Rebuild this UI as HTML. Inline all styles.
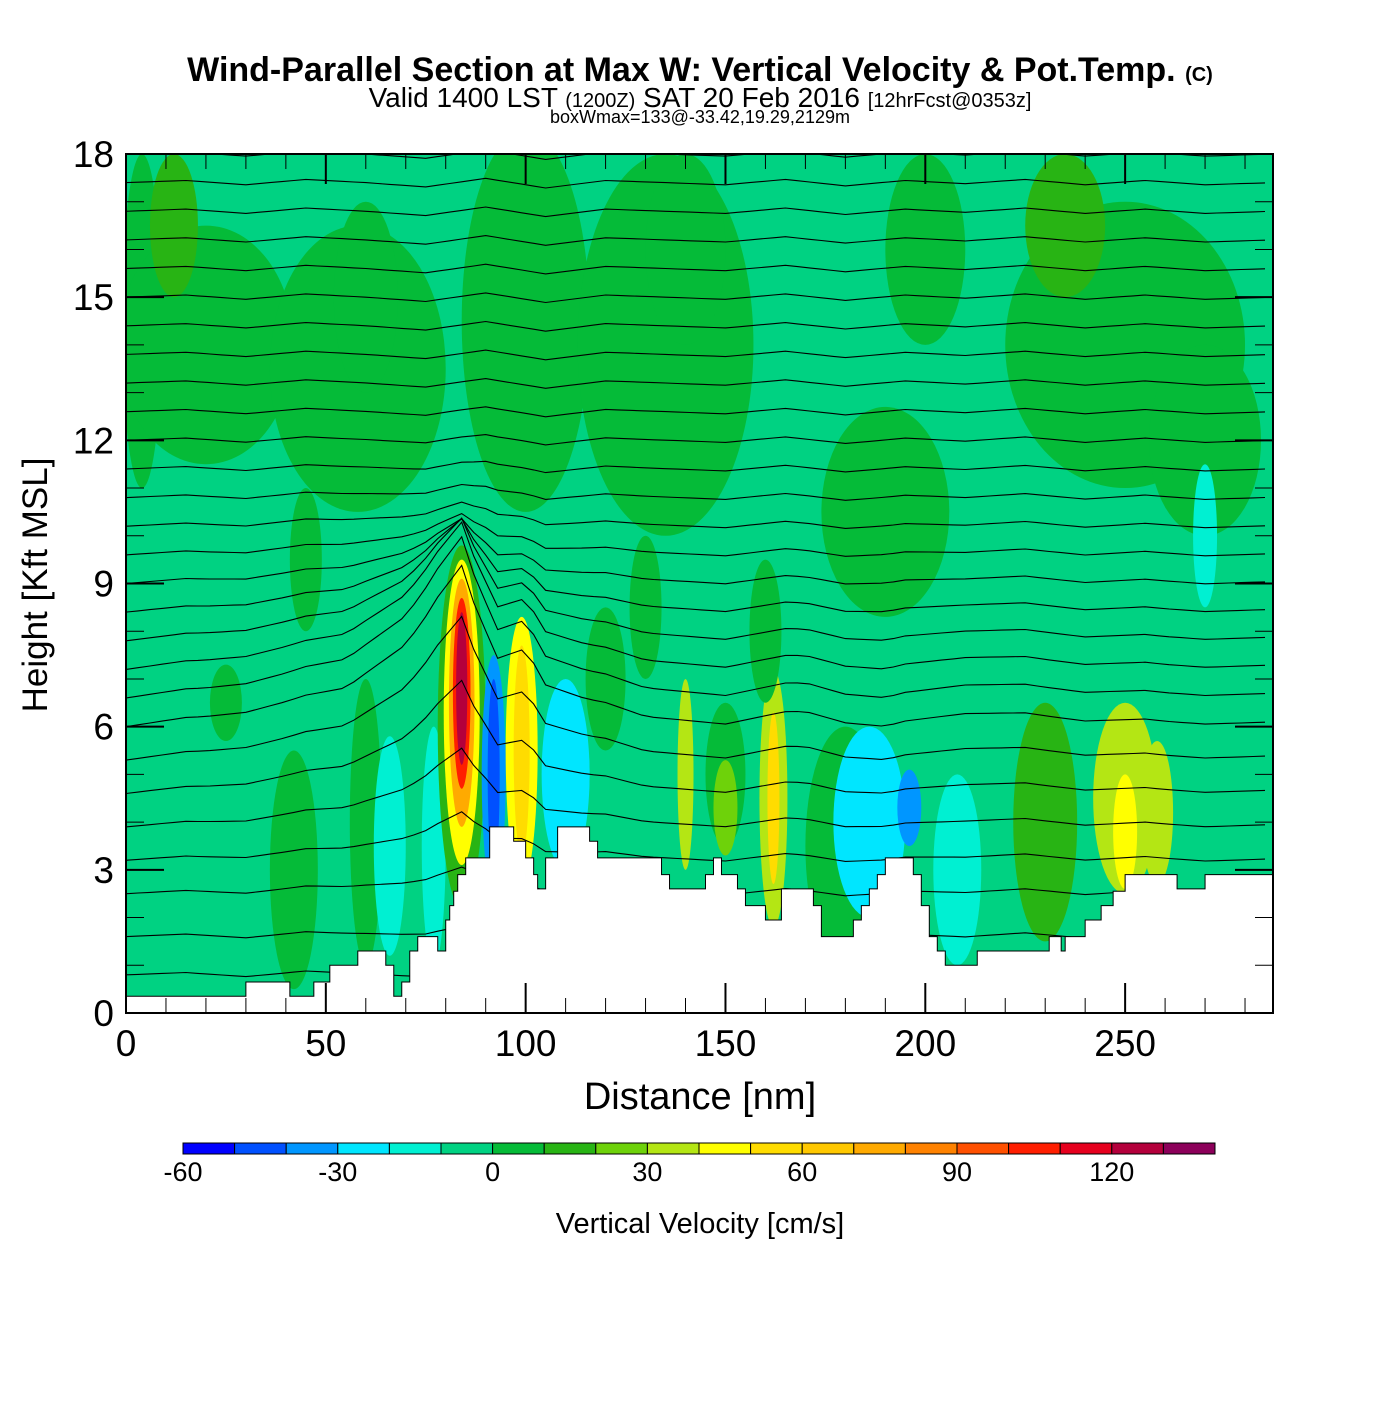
<!DOCTYPE html>
<html><head><meta charset="utf-8">
<style>
body{margin:0;background:#fff;}
svg text{font-family:"Liberation Sans",sans-serif;}
</style></head>
<body>
<svg id="chart" width="1400" height="1400" xmlns="http://www.w3.org/2000/svg">
<rect width="1400" height="1400" fill="#fff"/>
<text x="700" y="81" text-anchor="middle" font-size="34" font-weight="bold">Wind-Parallel Section at Max W: Vertical Velocity &amp; Pot.Temp. <tspan font-size="20">(C)</tspan></text>
<text x="700" y="107" text-anchor="middle" font-size="28">Valid 1400 LST <tspan font-size="20">(1200Z)</tspan> SAT 20 Feb 2016 <tspan font-size="20">[12hrFcst@0353z]</tspan></text>
<text x="700" y="123" text-anchor="middle" font-size="18">boxWmax=133@-33.42,19.29,2129m</text>
<defs><clipPath id="plotclip"><rect x="126" y="154" width="1147" height="859"/></clipPath></defs>
<g id="field" clip-path="url(#plotclip)"></g>
<g id="lines" clip-path="url(#plotclip)"></g>
<g id="terrain" clip-path="url(#plotclip)"></g>
<g id="axes"></g>
<text x="700" y="1109" text-anchor="middle" font-size="38">Distance [nm]</text>
<text transform="translate(47,585) rotate(-90)" text-anchor="middle" font-size="35">Height [Kft MSL]</text>
<g id="cbar"></g>
<text x="700" y="1233" text-anchor="middle" font-size="29">Vertical Velocity [cm/s]</text>
</svg>
<script>
// ---- data ----
const binEdges=[-60,-50,-40,-30,-20,-10,0,10,20,30,40,50,60,70,80,90,100,110,120,130,140];
const binColors=["#0000ff","#0050ff","#0096ff","#00e6ff","#00f0d2","#00d282","#05bb38","#28b414","#6ed20a","#b4e614","#ffff00","#ffdc00","#ffc800","#ffaa00","#ff8200","#ff5000","#ff1e00","#e6001e","#b4003c","#8c005a"];
const cbarTicks=[-60,-30,0,30,60,90,120];
const xTicks=[0,50,100,150,200,250];
const yTicks=[0,3,6,9,12,15,18];
// blobs: center distance (nm), center height (kft), half-width (nm), half-height (kft), w (cm/s)
const blobX=[4,20,58,100,135,190,250,235,12,60,140,200,270,
  42,60,180,230,150,120,25,
  66,77,110,186,208,270,
  84,84,84,84,84,
  92,92,99,99,111,196,
  140,162,162,150,250,250,258,
  45,160,130];
const blobY=[14.5,14,13.5,14.5,14,10.5,14,16.5,16.5,15,16,16,12,
  3,4,3.5,4,5,7,6.5,
  3.5,3.5,5,4,3,10,
  6,6.3,6.5,6.7,6.8,
  5,5,5.5,5.5,5,4.3,
  5,4.5,4.5,4.3,4.5,3.8,4.2,
  9.5,8,8.5];
const blobW=[5,22,22,16,22,16,30,10,6,8,10,10,14,
  6,4,10,8,5,5,4,
  4,3,6,9,6,3,
  6,4.5,3.2,2.2,1.4,
  3,1.5,4,2,5,3,
  2,3.5,1.5,3,8,3,4,
  4,4,4];
const blobH=[3.5,2.5,3,4,4,2.2,3,1.5,1.5,2,2,2,2,
  2.5,3,2.5,2.5,1.5,1.5,0.8,
  2.3,2.5,2,2,2,1.5,
  3.8,3.2,2.6,2,1.6,
  2.5,2,2.8,2.2,1.5,0.8,
  2,2.7,1.8,1,2,1.2,1.5,
  1.5,1.5,1.5];
const blobV=[5,5,5,5,5,5,5,15,15,5,5,5,5,
  5,5,5,15,5,5,5,
  -15,-15,-25,-25,-15,-15,
  15,45,75,105,125,
  -35,-45,45,55,-25,-35,
  35,35,55,25,35,45,35,
  5,5,5];
// terrain: segment start distance (nm) and height (kft)
const terrX=[0,30,41,47,51,58,65,67,69,71,73,78,80,81,82,83,85,91,97,100,102,103,105,108,116,118,134,136,145,147,149,153,155,160,164,172,174,182,184,186,188,190,197,199,201,203,205,213,231,234,235,240,244,247,250,263,270];
const terrH=[0.35,0.65,0.35,0.65,1.0,1.3,1.0,0.35,0.65,1.3,1.6,1.3,1.95,2.25,2.55,2.9,3.25,3.9,3.6,3.25,2.9,2.6,3.25,3.9,3.6,3.25,2.9,2.6,2.9,3.25,2.9,2.6,2.25,1.95,2.6,2.25,1.6,1.95,2.25,2.6,2.9,3.25,2.9,2.25,1.6,1.3,1.0,1.3,1.6,1.3,1.6,1.95,2.25,2.55,2.9,2.6,2.9];
// isentropes: height at left edge (kft) and lift profile
const thetaLeft=[0.8,1.6,2.5,3.2,3.9,4.6,5.3,6.0,6.6,7.2,7.8,8.4,9.0,9.6,10.2,10.8,11.4,12.0,12.6,13.2,13.8,14.4,15.0,15.6,16.2,16.8,17.4,18.0];
const liftX=[0,20,40,55,70,78,84,88,93,100,105,115,130,150,170,190,210,230,260,287];
const liftV=[0,0.2,0.5,0.8,1.8,2.8,3.4,2.3,1.4,1.7,1.0,0.6,0.2,0.1,0.3,0.0,0.3,0.2,0.1,0.1];
const wavX=[0,15,30,45,60,75,90,105,120,135,150,165,180,195,210,225,240,255,270,287];
const wavV=[0,0.1,-0.1,0.15,0,-0.2,0.2,-0.25,0.1,0,-0.1,0.15,-0.15,0.1,-0.05,0.15,-0.1,0.1,-0.1,0];

// ---- scales ----
const X0=126,X1=1273,Y0=1013,Y1=154,XMAX=287,YMAX=18;
const sx=d=>X0+d*(X1-X0)/XMAX;
const sy=h=>Y0-h*(Y0-Y1)/YMAX;
const NS="http://www.w3.org/2000/svg";
function mk(tag,attrs,parent){const e=document.createElementNS(NS,tag);for(const k in attrs)e.setAttribute(k,attrs[k]);parent.appendChild(e);return e;}
function colorFor(v){for(let i=0;i<binColors.length;i++){if(v<binEdges[i+1])return binColors[i];}return binColors[binColors.length-1];}
function interp(xs,vs,x){if(x<=xs[0])return vs[0];for(let i=1;i<xs.length;i++){if(x<=xs[i]){const t=(x-xs[i-1])/(xs[i]-xs[i-1]);return vs[i-1]+t*(vs[i]-vs[i-1]);}}return vs[vs.length-1];}

// ---- field ----
const field=document.getElementById('field');
const bg=mk('rect',{x:X0,y:Y1,width:X1-X0,height:Y0-Y1,fill:binColors[5]},field);


for(let i=0;i<blobX.length;i++){
  const e=mk('ellipse',{cx:sx(blobX[i]),cy:sy(blobY[i]),rx:blobW[i]*(X1-X0)/XMAX,ry:blobH[i]*(Y0-Y1)/YMAX,fill:colorFor(blobV[i])},field);
  
  
}

// ---- isentropes ----
const lines=document.getElementById('lines');
thetaLeft.forEach((h0,k)=>{
  const wgt=Math.exp(-Math.pow((h0-6.3)/2.8,2));
  let d='';
  for(let x=0;x<=XMAX;x+=3){
    const h=h0+interp(liftX,liftV,x)*wgt+interp(wavX,wavV,x)*0.45;
    d+=(x===0?'M':'L')+sx(x).toFixed(1)+','+sy(h).toFixed(1);
  }
  const p=mk('path',{d:d,fill:'none',stroke:'#000','stroke-width':1.1},lines);
  
  
});

// ---- terrain ----
const terr=document.getElementById('terrain');
let td='M'+sx(0)+','+sy(0);
for(let i=0;i<terrX.length;i++){
  const xe=i+1<terrX.length?terrX[i+1]:XMAX+2;
  td+='L'+sx(terrX[i])+','+sy(terrH[i])+'L'+sx(xe)+','+sy(terrH[i]);
}
td+='L'+sx(XMAX+2)+','+sy(0)+'Z';
const tp=mk('path',{d:td,fill:'#fff',stroke:'#000','stroke-width':1},terr);



// ---- axes ----
const ax=document.getElementById('axes');
mk('rect',{x:X0,y:Y1,width:X1-X0,height:Y0-Y1,fill:'none',stroke:'#000','stroke-width':2},ax);
for(let d=0;d<=XMAX;d+=10){
  const major=d%50===0, L=major?30:15;
  mk('line',{x1:sx(d),x2:sx(d),y1:Y0,y2:Y0-L,stroke:'#000','stroke-width':major?2:1},ax);
  mk('line',{x1:sx(d),x2:sx(d),y1:Y1,y2:Y1+L,stroke:'#000','stroke-width':major?2:1},ax);
}
for(let h=0;h<=YMAX;h+=1){
  const major=h%3===0, L=major?38:18;
  mk('line',{x1:X0,x2:X0+L,y1:sy(h),y2:sy(h),stroke:'#000','stroke-width':major?2:1},ax);
  mk('line',{x1:X1,x2:X1-L,y1:sy(h),y2:sy(h),stroke:'#000','stroke-width':major?2:1},ax);
}
xTicks.forEach(v=>{const t=mk('text',{x:sx(v),y:1056,'text-anchor':'middle','font-size':37},ax);t.textContent=v;
  
  });
yTicks.forEach(v=>{const t=mk('text',{x:114,y:sy(v)+13,'text-anchor':'end','font-size':37},ax);t.textContent=v;
  
  });

// ---- colorbar ----
const cb=document.getElementById('cbar');
const CB0=183,CB1=1215,CBY=1143,CBH=11;
const cbx=v=>CB0+(v-binEdges[0])*(CB1-CB0)/(binEdges[binEdges.length-1]-binEdges[0]);
for(let i=0;i<binColors.length;i++){
  const r=mk('rect',{x:cbx(binEdges[i]),y:CBY,width:cbx(binEdges[i+1])-cbx(binEdges[i]),height:CBH,fill:binColors[i],stroke:'#000','stroke-width':1},cb);
  
  
}
cbarTicks.forEach(v=>{const t=mk('text',{x:cbx(v),y:1181,'text-anchor':'middle','font-size':27},cb);t.textContent=v;
  
  });
</script>
</body></html>
